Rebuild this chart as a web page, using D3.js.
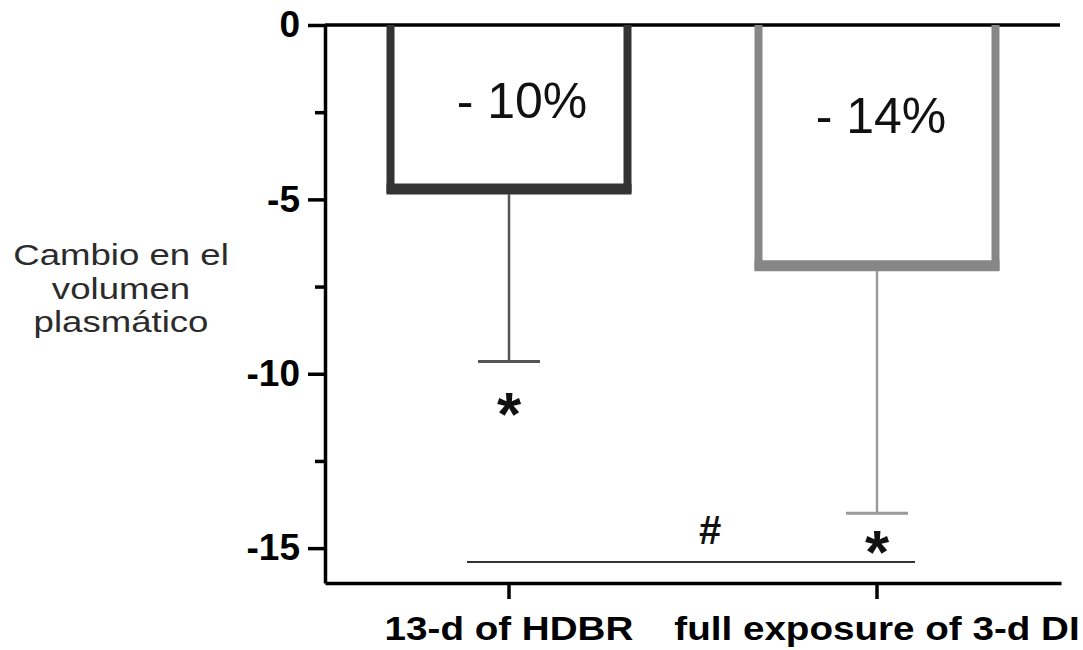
<!DOCTYPE html>
<html>
<head>
<meta charset="utf-8">
<script src="https://cdn.jsdelivr.net/npm/d3@7/dist/d3.min.js"></script>
<style>
  html, body { margin: 0; padding: 0; background: #ffffff; }
  svg { display: block; }
  text { font-family: "Liberation Sans", Arial, Helvetica, sans-serif; }
</style>
</head>
<body>
<svg id="chart" width="1083" height="650"></svg>
<script>
// Plasma volume change per condition (mean and mean − SD)
const categories = ["13-d of HDBR", "full exposure of 3-d DI"];
const meanChange = [-4.7, -6.9];
const lowerError = [-9.65, -14.0];
const percentLabels = ["- 10%", "- 14%"];
const starLabels = ["*", "*"];
const yMajorTicks = [0, -5, -10, -15];
const yMinorTicks = [-2.5, -7.5, -12.5];
const yTitleLines = ["Cambio en el", "volumen", "plasmático"];
const groupDiffValue = -15.4;
const groupDiffLabel = "#";

const barStroke = ["#333333", "#878787"];
const errStroke = ["#555555", "#9a9a9a"];

const svg = d3.select("#chart");

const x = d3.scaleBand().domain(categories).range([325, 1061]).padding(0);
const y = d3.scaleLinear().domain([0, -16]).range([25, 583]);
const cx = c => x(c) + x.bandwidth() / 2;
const barW = 237;

// Horizontally stretched text, used for the axis title and category labels
function stretchedText(g, str, tx, ty, size, weight, sx, anchor, fill) {
  return g.append("text")
    .attr("transform", `translate(${tx},${ty}) scale(${sx},1)`)
    .attr("text-anchor", anchor)
    .attr("font-size", size)
    .attr("font-weight", weight)
    .attr("fill", fill)
    .text(str);
}

// Y axis: major ticks with labels
const yAxis = svg.append("g")
  .attr("transform", "translate(325,0)")
  .call(d3.axisLeft(y).tickValues(yMajorTicks).tickSize(17).tickSizeOuter(0).tickPadding(8).tickFormat(d3.format("d")));
yAxis.select(".domain").attr("stroke", "#000").attr("stroke-width", 3.5);
yAxis.selectAll(".tick line").attr("stroke", "#000").attr("stroke-width", 3.5);
yAxis.selectAll(".tick text")
  .attr("font-size", 37).attr("font-weight", "bold").attr("fill", "#000")
  .attr("font-family", "'Liberation Sans', Arial, sans-serif")
  .text(d => d === 0 ? "0" : "-" + Math.abs(d));

// Y axis: minor ticks
const yMinor = svg.append("g")
  .attr("transform", "translate(325,0)")
  .call(d3.axisLeft(y).tickValues(yMinorTicks).tickSize(10).tickSizeOuter(0).tickFormat(""));
yMinor.select(".domain").remove();
yMinor.selectAll(".tick line").attr("stroke", "#000").attr("stroke-width", 3.5);

// Zero line across the plot
svg.append("line")
  .attr("x1", 325).attr("x2", 1060)
  .attr("y1", y(0)).attr("y2", y(0))
  .attr("stroke", "#000").attr("stroke-width", 3.5);

// X axis along the bottom
const xAxis = svg.append("g")
  .attr("transform", `translate(0,${y(-16)})`)
  .call(d3.axisBottom(x).tickSize(16).tickSizeOuter(0).tickFormat(""));
xAxis.select(".domain").attr("stroke", "#000").attr("stroke-width", 3.5);
xAxis.selectAll(".tick line").attr("stroke", "#000").attr("stroke-width", 3.5);

categories.forEach(c => {
  stretchedText(svg, c, cx(c), 640, 33, "bold", 1.17, "middle", "#000");
});

// Y axis title
const titleG = svg.append("g");
yTitleLines.forEach((line, i) => {
  stretchedText(titleG, line, 121, 265 + i * 33.5, 30, "normal", 1.22, "middle", "#2b2b2b");
});

// Hollow bars hanging from zero
const bars = svg.append("g");
categories.forEach((c, i) => {
  const left = cx(c) - barW / 2, right = cx(c) + barW / 2;
  const yb = y(meanChange[i]);
  bars.append("path")
    .attr("d", `M${left},${y(0)}V${yb}H${right}V${y(0)}`)
    .attr("fill", "none")
    .attr("stroke", barStroke[i])
    .attr("stroke-width", 8)
    .attr("stroke-linejoin", "miter");
  bars.append("line")
    .attr("x1", left - 4).attr("x2", right + 4)
    .attr("y1", yb).attr("y2", yb)
    .attr("stroke", barStroke[i])
    .attr("stroke-width", 11);
});

// Error bars (downward only)
const errs = svg.append("g");
categories.forEach((c, i) => {
  errs.append("line")
    .attr("x1", cx(c)).attr("x2", cx(c))
    .attr("y1", y(meanChange[i]) + 5).attr("y2", y(lowerError[i]))
    .attr("stroke", errStroke[i]).attr("stroke-width", 2.5);
  errs.append("line")
    .attr("x1", cx(c) - 31).attr("x2", cx(c) + 31)
    .attr("y1", y(lowerError[i])).attr("y2", y(lowerError[i]))
    .attr("stroke", errStroke[i]).attr("stroke-width", 3);
});

// Percentage labels inside bars
const pctNudge = [[13, 93], [4, 108]];
categories.forEach((c, i) => {
  svg.append("text")
    .attr("x", cx(c) + pctNudge[i][0])
    .attr("y", y(0) + pctNudge[i][1])
    .attr("text-anchor", "middle")
    .attr("font-size", 50)
    .attr("fill", "#111")
    .text(percentLabels[i]);
});

// Significance asterisks below each error bar
const starGap = [73, 60];
categories.forEach((c, i) => {
  svg.append("text")
    .attr("x", cx(c))
    .attr("y", y(lowerError[i]) + starGap[i])
    .attr("text-anchor", "middle")
    .attr("font-size", 62)
    .attr("font-weight", "bold")
    .attr("fill", "#111")
    .text(starLabels[i]);
});

// Between-group comparison line
const c0 = cx(categories[0]), c1 = cx(categories[1]);
svg.append("line")
  .attr("x1", c0 - 42).attr("x2", c1 + 38)
  .attr("y1", y(groupDiffValue)).attr("y2", y(groupDiffValue))
  .attr("stroke", "#333").attr("stroke-width", 2);
svg.append("text")
  .attr("x", (c0 + c1) / 2 + 17)
  .attr("y", y(groupDiffValue) - 18)
  .attr("text-anchor", "middle")
  .attr("font-size", 40)
  .attr("font-weight", "bold")
  .attr("fill", "#111")
  .text(groupDiffLabel);
</script>
</body>
</html>
